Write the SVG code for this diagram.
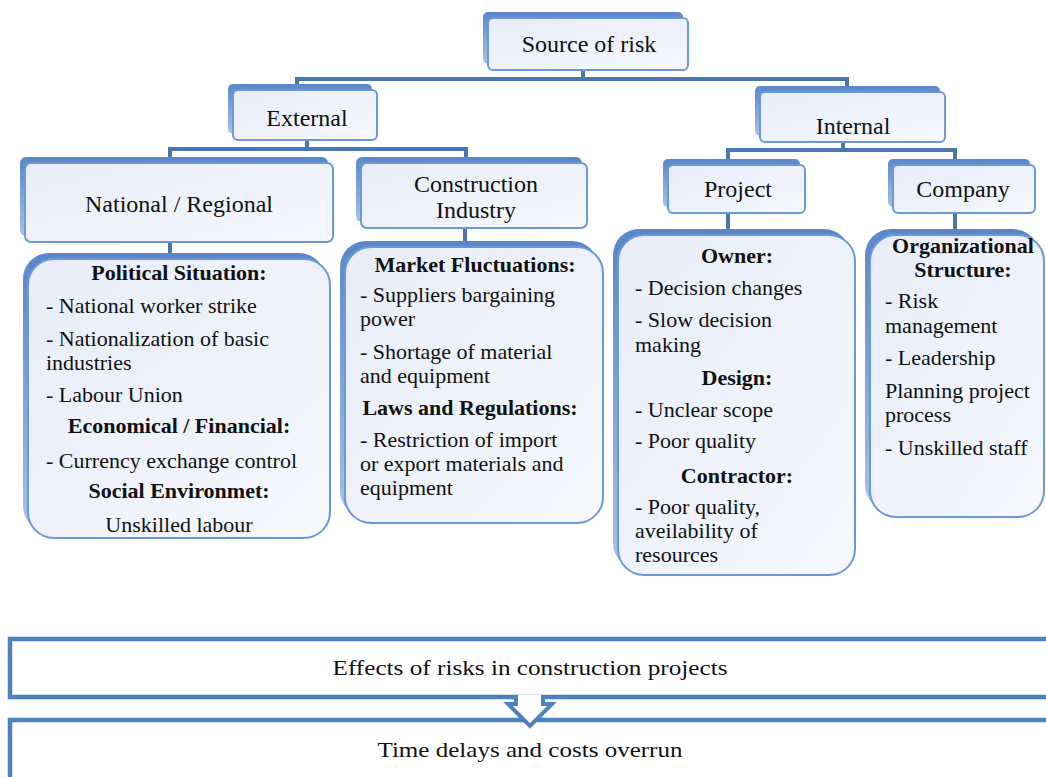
<svg xmlns="http://www.w3.org/2000/svg" width="1046" height="777" viewBox="0 0 1046 777">
<defs>
<linearGradient id="gBox" x1="0" y1="0" x2="1" y2="1">
<stop offset="0" stop-color="#e8edf9"/>
<stop offset="0.6" stop-color="#f0f3fc"/>
<stop offset="1" stop-color="#f7f9fe"/>
</linearGradient>
<linearGradient id="gSh" x1="0" y1="0" x2="0" y2="1">
<stop offset="0" stop-color="#5a87c8"/>
<stop offset="1" stop-color="#a9c1e6"/>
</linearGradient>
<style>
.sh{fill:url(#gSh);}
.bx{fill:url(#gBox);stroke:#6b98dc;stroke-width:2;}
.cn{fill:none;stroke:#4a76b0;stroke-width:4;}
.tt{font-family:"Liberation Serif","Times New Roman",serif;font-size:24px;fill:#111;text-anchor:middle;}
.tx{font-family:"Liberation Serif","Times New Roman",serif;font-size:22px;fill:#111;}
.hd{font-family:"Liberation Serif","Times New Roman",serif;font-size:22px;font-weight:bold;fill:#111;text-anchor:middle;}
.ct{text-anchor:middle;}
.bb{fill:#fff;stroke:#4f81bd;stroke-width:4.5;}
.bt{font-family:"Liberation Serif","Times New Roman",serif;font-size:22px;fill:#111;text-anchor:middle;}
</style>
</defs>
<rect width="1046" height="777" fill="#fff"/>

<g id="connectors">
<path class="cn" d="M583,70 V79"/>
<path class="cn" d="M297,90 V79 H847 V92"/>
<path class="cn" d="M307,140 V149"/>
<path class="cn" d="M170,163 V149 H466 V163"/>
<path class="cn" d="M170,242 V259"/>
<path class="cn" d="M465,228 V247"/>
<path class="cn" d="M843,142 V150"/>
<path class="cn" d="M728,165 V150 H955 V165"/>
<path class="cn" d="M728,213 V235"/>
<path class="cn" d="M955,213 V235"/>
</g>

<g id="source">
<rect class="sh" x="483" y="12" width="200" height="52" rx="5"/>
<rect class="bx" x="488" y="18" width="200" height="52" rx="5"/>
<text class="tt" x="589" y="52">Source of risk</text>
</g>

<g id="external">
<rect class="sh" x="228" y="84" width="144" height="50" rx="5"/>
<rect class="bx" x="233" y="90" width="144" height="50" rx="5"/>
<text class="tt" x="307" y="126">External</text>
</g>

<g id="internal">
<rect class="sh" x="755" y="86" width="185" height="50" rx="5"/>
<rect class="bx" x="760" y="92" width="185" height="50" rx="5"/>
<text class="tt" x="853" y="134">Internal</text>
</g>

<g id="national">
<rect class="sh" x="20" y="157" width="308" height="79" rx="6"/>
<rect class="bx" x="25" y="163" width="308" height="79" rx="6"/>
<text class="tt" x="179" y="212">National / Regional</text>
</g>

<g id="construction">
<rect class="sh" x="356" y="157" width="226" height="65" rx="6"/>
<rect class="bx" x="361" y="163" width="226" height="65" rx="6"/>
<text class="tt" x="476" y="192">Construction<tspan x="476" dy="26">Industry</tspan></text>
</g>

<g id="project">
<rect class="sh" x="663" y="159" width="137" height="48" rx="5"/>
<rect class="bx" x="668" y="165" width="137" height="48" rx="5"/>
<text class="tt" x="738" y="197">Project</text>
</g>

<g id="company">
<rect class="sh" x="888" y="159" width="142" height="48" rx="5"/>
<rect class="bx" x="893" y="165" width="142" height="48" rx="5"/>
<text class="tt" x="963" y="197">Company</text>
</g>

<g id="national-risks">
<rect class="sh" x="23" y="253" width="302" height="279" rx="26"/>
<rect class="bx" x="28" y="259" width="302" height="279" rx="26"/>
<text class="hd" x="179" y="280">Political Situation:</text>
<text class="tx" x="46" y="313">- National worker strike</text>
<text class="tx" x="46" y="346">- Nationalization  of basic<tspan x="46" dy="24">industries</tspan></text>
<text class="tx" x="46" y="402">- Labour Union</text>
<text class="hd" x="179" y="433">Economical / Financial:</text>
<text class="tx" x="46" y="468">- Currency exchange control</text>
<text class="hd" x="179" y="498">Social Environmet:</text>
<text class="tx ct" x="179" y="532">Unskilled labour</text>
</g>

<g id="industry-risks">
<rect class="sh" x="340" y="241" width="258" height="276" rx="26"/>
<rect class="bx" x="345" y="247" width="258" height="276" rx="26"/>
<text class="hd" x="475" y="272">Market Fluctuations:</text>
<text class="tx" x="360" y="302">- Suppliers bargaining<tspan x="360" dy="24">power</tspan></text>
<text class="tx" x="360" y="359">-  Shortage of material<tspan x="360" dy="24">and equipment</tspan></text>
<text class="hd" x="470" y="415">Laws and Regulations:</text>
<text class="tx" x="360" y="447">- Restriction  of import<tspan x="360" dy="24">or export materials  and</tspan><tspan x="360" dy="24">equipment</tspan></text>
</g>

<g id="project-risks">
<rect class="sh" x="613" y="229" width="237" height="340" rx="26"/>
<rect class="bx" x="618" y="235" width="237" height="340" rx="26"/>
<text class="hd" x="737" y="263">Owner:</text>
<text class="tx" x="635" y="295">- Decision changes</text>
<text class="tx" x="635" y="327">- Slow decision<tspan x="635" dy="25">making</tspan></text>
<text class="hd" x="737" y="385">Design:</text>
<text class="tx" x="635" y="417">- Unclear scope</text>
<text class="tx" x="635" y="448">- Poor quality</text>
<text class="hd" x="737" y="483">Contractor:</text>
<text class="tx" x="635" y="514">- Poor quality,<tspan x="635" dy="24">aveilability  of</tspan><tspan x="635" dy="24">resources</tspan></text>
</g>

<g id="company-risks">
<rect class="sh" x="865" y="229" width="174" height="282" rx="26"/>
<rect class="bx" x="870" y="235" width="174" height="282" rx="26"/>
<text class="hd" x="963" y="253">Organizational<tspan x="963" dy="24">Structure:</tspan></text>
<text class="tx" x="885" y="308">- Risk<tspan x="885" dy="25">management</tspan></text>
<text class="tx" x="885" y="365">- Leadership</text>
<text class="tx" x="885" y="398">Planning project<tspan x="885" dy="24">process</tspan></text>
<text class="tx" x="885" y="455">- Unskilled staff</text>
</g>

<g id="effects">
<rect class="bb" x="10" y="639" width="1060" height="58"/>
<text class="bt" x="530" y="675" textLength="395" lengthAdjust="spacingAndGlyphs">Effects of risks in construction projects</text>
</g>

<g id="outcome">
<rect class="bb" x="10" y="720" width="1060" height="80"/>
<text class="bt" x="530" y="757" textLength="305" lengthAdjust="spacingAndGlyphs">Time delays and costs overrun</text>
</g>

<g id="arrow">
<path d="M516,695 V704 H508 L530,726 L552,704 H543 V695" fill="#fff" stroke="#4f81bd" stroke-width="4" stroke-linejoin="miter"/>
</g>
</svg>
